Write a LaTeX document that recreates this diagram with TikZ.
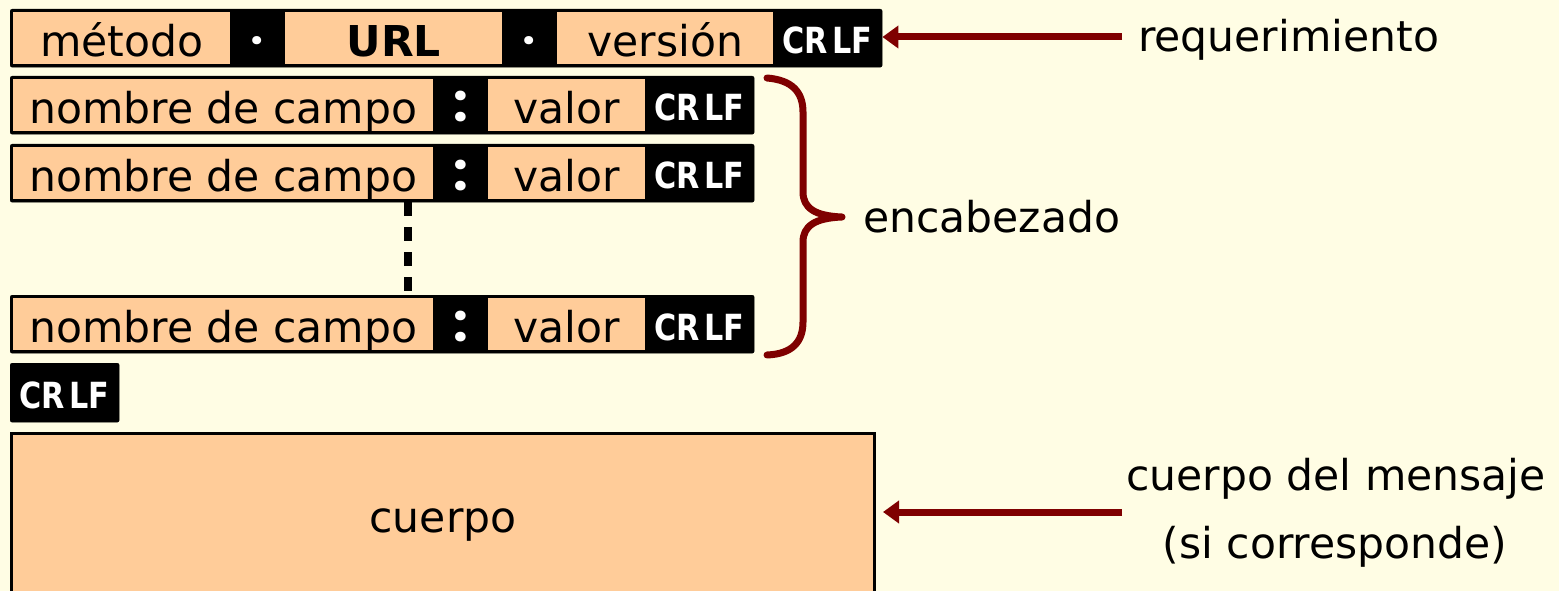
\documentclass[tikz,border=0pt]{standalone}
\usepackage{fontspec}
\setmainfont{DejaVu Sans}
\newfontfamily\dotfont{Poppins}
\usepackage{graphicx}
\usetikzlibrary{arrows.meta}

\definecolor{paper}{HTML}{FFFDE4}
\definecolor{peach}{HTML}{FFCC99}
\definecolor{maroon}{HTML}{7F0000}

\newcommand{\lblfont}{\fontsize{42.5pt}{52pt}\selectfont}
\newcommand{\crlffont}{\fontsize{36pt}{40pt}\selectfont\bfseries}
\newcommand{\crlf}{\scalebox{0.84}[1]{CR\hspace{5pt}LF}}

\tikzset{
  bar/.style={fill=black, draw=black, rounded corners=2pt, inner sep=0pt,
    anchor=north west, minimum height=58pt},
  field/.style={fill=peach, inner sep=0pt, anchor=north west,
    minimum height=52pt, text height=36pt, text depth=0pt, font=\lblfont},
  crlfmark/.style={text=white, inner sep=0pt, anchor=base, font=\crlffont},
  sepmark/.style={text=white, inner sep=0pt, anchor=base, font=\dotfont\fontsize{44pt}{52pt}\selectfont\bfseries},
  colonmark/.style={text=white, inner sep=0pt, anchor=base, font=\dotfont\fontsize{52pt}{60pt}\selectfont\bfseries},
  lbl/.style={inner sep=0pt, font=\lblfont},
  pointer/.style={draw=maroon, line width=7pt, -{Triangle[length=16pt,width=22pt]}},
  brace/.style={draw=maroon, line width=7pt, line cap=round, line join=round},
  ellipsis/.style={draw=black, line width=8pt, dash pattern=on 14pt off 11pt},
}

\begin{document}
\begin{tikzpicture}[x=1pt, y=-1pt]
  \clip (0,0) rectangle (1559,591);
  \fill[paper] (0,0) rectangle (1559,591);

  % request line: method, URL, version
  \node[bar, minimum width=872pt] (r1) at (10,9) {};
  \node[field, minimum width=217pt] (metodo) at (13,12) {método};
  \node[sepmark] (sp1) at (257.5,55) {·};
  \node[field, minimum width=217pt, font=\lblfont\bfseries] (url) at (285,12) {URL};
  \node[sepmark] (sp2) at (529.5,55) {·};
  \node[field, minimum width=216pt] (version) at (557,12) {versión};
  \node[crlfmark] (crlf1) at (827.5,54) {\crlf};

  % header lines
  \foreach \row/\top in {r2/76, r3/144, r4/295} {
    \node[bar, minimum width=744pt] (\row) at (10,\top) {};
    \node[field, minimum width=420pt] (\row-name) at (13,\top+3) {nombre de campo};
    \node[colonmark] (\row-colon) at (460.5,\top+46) {:};
    \node[field, minimum width=157pt] (\row-value) at (488,\top+3) {valor};
    \node[crlfmark] (\row-crlf) at (699.5,\top+45) {\crlf};
  }

  % omitted header lines
  \coordinate (dashx) at (408,0);
  \draw[ellipsis] (r3.south -| dashx) -- (r4.north -| dashx);

  % blank line
  \node[bar, minimum width=109pt, minimum height=59pt] (blank) at (10,363) {};
  \node[crlfmark] (blank-crlf) at (64.5,408) {\crlf};

  % message body
  \node[draw=black, line width=3pt, fill=peach, anchor=north west,
        minimum width=863pt, minimum height=184pt, inner sep=0pt,
        font=\lblfont] (body) at (10,432) {cuerpo};

  % labels
  \node[lbl, anchor=base west] (reqlbl) at (1138,52) {requerimiento};
  \node[lbl, anchor=base west] (enclbl) at (863,232) {encabezado};
  \node[lbl, anchor=base] (bodylbl) at (1336,490) {cuerpo del mensaje};
  \node[lbl, anchor=base] (bodylbl2) at (1335,558) {(si corresponde)};

  % pointers
  \coordinate (reqtail) at (1122,37);
  \draw[pointer] (reqtail) -- (reqtail -| r1.east);
  \coordinate (bodytail) at (1122,512);
  \draw[pointer, shorten >=7pt] (bodytail) -- (bodytail -| body.east);

  % brace around the header lines
  \draw[brace] (767,78) .. controls (792,80) and (803,92) .. (803,112)
    -- (803,192) .. controls (803,208) and (815,216) .. (842,217)
    .. controls (815,218) and (803,226) .. (803,242)
    -- (803,322) .. controls (803,342) and (792,354) .. (767,355);
\end{tikzpicture}
\end{document}
